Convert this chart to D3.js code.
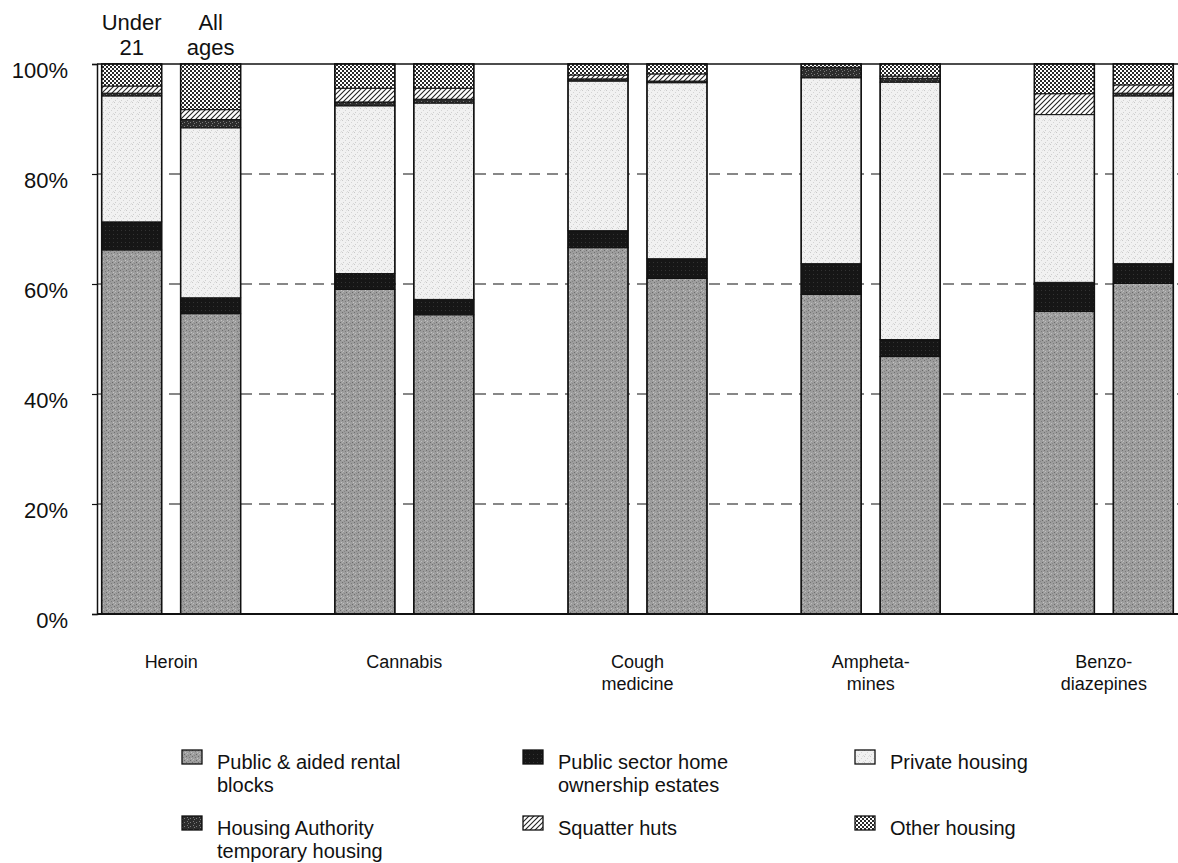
<!DOCTYPE html>
<html>
<head>
<meta charset="utf-8">
<script src="https://cdn.jsdelivr.net/npm/d3@7"></script>
<style>
  html, body { margin: 0; padding: 0; background: #fff; }
  svg { display: block; font-family: "Liberation Sans", Arial, sans-serif; }
</style>
</head>
<body>
<svg id="chart" width="1178" height="863"></svg>
<script>
// ---- Data ----
const categories = ["Heroin", "Cannabis", "Cough medicine", "Amphetamines", "Benzodiazepines"];
const categoryLabels = [["Heroin"], ["Cannabis"], ["Cough", "medicine"], ["Ampheta-", "mines"], ["Benzo-", "diazepines"]];
const ageGroups = ["Under 21", "All ages"];
const ageGroupLabels = [["Under", "21"], ["All", "ages"]];
const seriesNames = ["Public & aided rental blocks", "Public sector home ownership estates", "Private housing",
                     "Housing Authority temporary housing", "Squatter huts", "Other housing"];
// values in order: Heroin U21, Heroin All, Cannabis U21, Cannabis All, Cough U21, Cough All, Amph U21, Amph All, Benzo U21, Benzo All
const rentalBlocks   = [66.2, 54.6, 59.0, 54.4, 66.6, 61.0, 58.1, 46.8, 55.0, 60.1];
const homeOwnership  = [5.1, 2.9, 2.9, 2.8, 3.1, 3.6, 5.6, 3.1, 5.3, 3.6];
const privateHousing = [22.9, 30.9, 30.5, 35.7, 27.2, 32.0, 33.8, 46.8, 30.5, 30.5];
const tempHousing    = [0.5, 1.5, 0.7, 0.7, 0.4, 0.3, 1.9, 0.7, 0.0, 0.5];
const squatterHuts   = [1.3, 1.8, 2.5, 2.0, 0.7, 1.3, 0.0, 0.4, 3.8, 1.5];
const otherHousing   = [4.0, 8.3, 4.4, 4.4, 2.0, 1.8, 0.6, 2.2, 5.4, 3.8];
const yTicks = [0, 20, 40, 60, 80, 100];

const seriesValues = [rentalBlocks, homeOwnership, privateHousing, tempHousing, squatterHuts, otherHousing];
const seriesKeys = ["rental", "psho", "private", "temp", "squatter", "other"];

(function () {
const rows = [];
categories.forEach((c, ci) => {
  ageGroups.forEach((a, ai) => {
    const r = { category: c, age: a };
    seriesKeys.forEach((k, si) => r[k] = seriesValues[si][ci * 2 + ai]);
    rows.push(r);
  });
});
const stacked = d3.stack().keys(seriesKeys)(rows);

const svg = d3.select("#chart");
const pL = 97, pR = 1178, pT = 64, pB = 614;

const x0 = d3.scaleBand().domain(categories).range([pL, pR]).paddingInner(0.404).paddingOuter(0.02);
const x1 = d3.scaleBand().domain(ageGroups).range([0, x0.bandwidth()]).paddingInner(0.24).paddingOuter(0);
const y = d3.scaleLinear().domain([0, 100]).range([pB, pT]);

const defs = svg.append("defs");
function pat(id, w, h, bg, build) {
  const p = defs.append("pattern").attr("id", id).attr("patternUnits", "userSpaceOnUse").attr("width", w).attr("height", h);
  p.append("rect").attr("width", w).attr("height", h).attr("fill", bg);
  build(p);
}
pat("p-rental", 6, 6, "#9d9d9d", p => {
  [[0,0,"#6f6f6f"],[3,1,"#7a7a7a"],[1,3,"#bdbdbd"],[4,4,"#6a6a6a"],[2,5,"#858585"],[5,2,"#c2c2c2"],[0,4,"#b0b0b0"]]
    .forEach(([a,b,c]) => p.append("rect").attr("x", a).attr("y", b).attr("width", 1).attr("height", 1).attr("fill", c));
});
pat("p-psho", 4, 4, "#161616", p => {
  p.append("rect").attr("x", 1).attr("y", 2).attr("width", 1).attr("height", 1).attr("fill", "#333");
});
pat("p-private", 6, 6, "#f1f1f1", p => {
  [[0,0,"#c9c9c9"],[3,2,"#d4d4d4"],[1,4,"#cfcfcf"],[5,5,"#dadada"],[4,0,"#e0e0e0"]]
    .forEach(([a,b,c]) => p.append("rect").attr("x", a).attr("y", b).attr("width", 1).attr("height", 1).attr("fill", c));
});
pat("p-temp", 6, 4, "#2c2c2c", p => {
  [[1,1],[4,2],[2,3]].forEach(([a,b]) => p.append("rect").attr("x", a).attr("y", b).attr("width", 1).attr("height", 1).attr("fill", "#7a7a7a"));
});
pat("p-squatter", 5, 5, "#ffffff", p => {
  p.append("path").attr("d", "M-1,6 L6,-1 M-1,1 L1,-1 M4,6 L6,4").attr("stroke", "#222").attr("stroke-width", 1.1);
});
pat("p-other", 4, 4, "#ffffff", p => {
  p.append("rect").attr("x", 0).attr("y", 0).attr("width", 2).attr("height", 2).attr("fill", "#2a2a2a");
  p.append("rect").attr("x", 2).attr("y", 2).attr("width", 2).attr("height", 2).attr("fill", "#2a2a2a");
});
const fillFor = k => `url(#p-${k})`;

svg.append("g").selectAll("line").data(yTicks.filter(t => t > 0 && t < 100)).join("line")
  .attr("x1", pL).attr("x2", pR).attr("y1", d => y(d)).attr("y2", d => y(d))
  .attr("stroke", "#111").attr("stroke-width", 1.2).attr("stroke-dasharray", "11,7");
svg.append("line").attr("x1", pL).attr("x2", pR).attr("y1", y(100)).attr("y2", y(100))
  .attr("stroke", "#111").attr("stroke-width", 1.5);

const barG = svg.append("g");
stacked.forEach(layer => {
  barG.append("g").selectAll("rect").data(layer).join("rect")
    .attr("x", d => x0(d.data.category) + x1(d.data.age))
    .attr("width", x1.bandwidth())
    .attr("y", d => y(d[1]))
    .attr("height", d => Math.max(0, y(d[0]) - y(d[1])))
    .attr("fill", fillFor(layer.key))
    .attr("stroke", d => (d[1] - d[0]) > 0 ? "#111" : "none")
    .attr("stroke-width", 1);
});
barG.append("g").selectAll("rect").data(rows).join("rect")
  .attr("x", d => x0(d.category) + x1(d.age))
  .attr("width", x1.bandwidth())
  .attr("y", y(100)).attr("height", y(0) - y(100))
  .attr("fill", "none").attr("stroke", "#111").attr("stroke-width", 1.5);

const yAxis = svg.append("g").attr("transform", `translate(${pL},0)`)
  .call(d3.axisLeft(y).tickValues(yTicks).tickSize(5).tickPadding(24).tickFormat(d => d + "%"));
yAxis.select(".domain").attr("stroke", "#111").attr("stroke-width", 1.5);
yAxis.selectAll(".tick line").attr("stroke", "#111").attr("stroke-width", 1.2);
yAxis.selectAll(".tick text").attr("font-size", 22).attr("font-family", "Liberation Sans, Arial, sans-serif")
  .attr("fill", "#111").attr("dy", "0.6em");

svg.append("line").attr("x1", pL).attr("x2", pR).attr("y1", y(0)).attr("y2", y(0))
  .attr("stroke", "#111").attr("stroke-width", 1.8);

const catG = svg.append("g").attr("font-size", 18).attr("fill", "#111").attr("text-anchor", "middle");
categories.forEach((c, i) => {
  const cx = x0(c) + x0.bandwidth() / 2;
  const t = catG.append("text").attr("x", cx).attr("y", 668);
  categoryLabels[i].forEach((line, li) => t.append("tspan").attr("x", cx).attr("dy", li ? 22 : 0).text(line));
});

const ageG = svg.append("g").attr("font-size", 22).attr("fill", "#111").attr("text-anchor", "middle");
ageGroups.forEach((a, i) => {
  const cx = x0(categories[0]) + x1(a) + x1.bandwidth() / 2;
  const t = ageG.append("text").attr("x", cx).attr("y", 30);
  ageGroupLabels[i].forEach((line, li) => t.append("tspan").attr("x", cx).attr("dy", li ? 25 : 0).text(line));
});

const legendLines = [["Public & aided rental", "blocks"], ["Public sector home", "ownership estates"], ["Private housing"],
                     ["Housing Authority", "temporary housing"], ["Squatter huts"], ["Other housing"]];
const legendCols = [182, 523, 855];
const legendRows = [750, 816];
const legG = svg.append("g").attr("font-size", 20).attr("fill", "#111");
seriesKeys.forEach((k, i) => {
  const cx = legendCols[i % 3], cy = legendRows[Math.floor(i / 3)];
  legG.append("rect").attr("x", cx).attr("y", cy).attr("width", 20).attr("height", 14)
    .attr("fill", fillFor(k)).attr("stroke", "#111").attr("stroke-width", 1.3);
  const t = legG.append("text").attr("x", cx + 35).attr("y", cy + 19);
  legendLines[i].forEach((line, li) => t.append("tspan").attr("x", cx + 35).attr("dy", li ? 23 : 0).text(line));
});
})();
</script>
</body>
</html>
